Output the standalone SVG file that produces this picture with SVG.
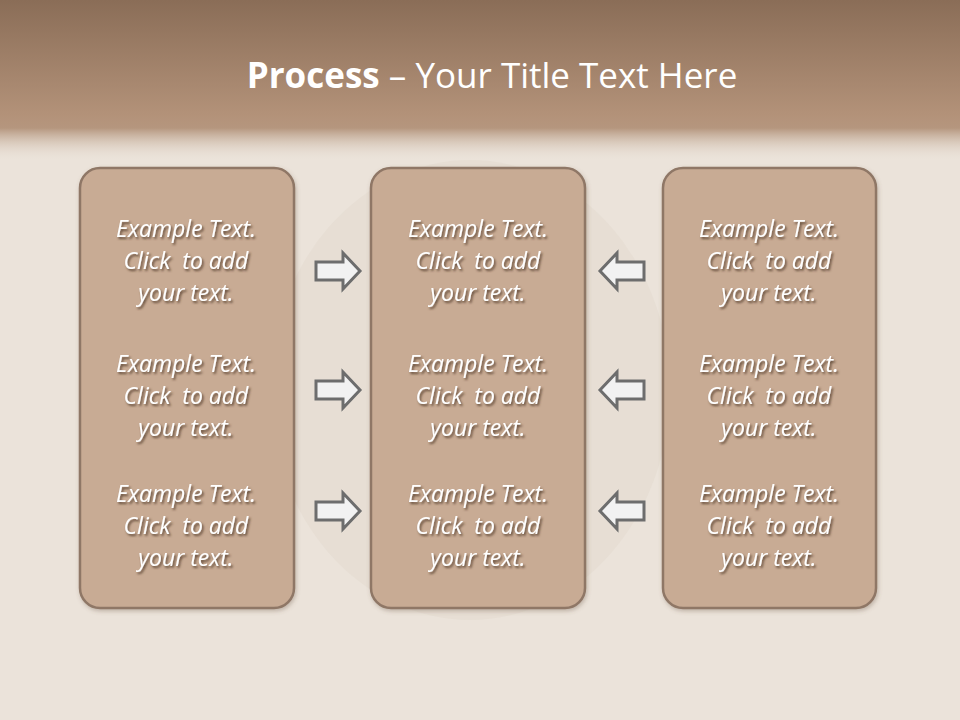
<svg xmlns="http://www.w3.org/2000/svg" width="960" height="720" viewBox="0 0 960 720">
<defs>
<linearGradient id="hdr" x1="0" y1="0" x2="0" y2="1">
<stop offset="0" stop-color="#8a6d57"/>
<stop offset="0.72" stop-color="#b39279"/>
<stop offset="0.8" stop-color="#b5967e"/>
<stop offset="1" stop-color="#e6dcd1" stop-opacity="0"/>
</linearGradient>
<filter id="ts" x="-10%" y="-20%" width="130%" height="160%">
<feDropShadow dx="1.5" dy="2" stdDeviation="1.3" flood-color="#4e3628" flood-opacity="0.85"/>
</filter>
<filter id="bs" x="-10%" y="-10%" width="130%" height="130%">
<feDropShadow dx="1" dy="2" stdDeviation="2" flood-color="#6b5444" flood-opacity="0.35"/>
</filter>
<style>
.box{fill:#c8ab94;stroke:#8f7766;stroke-width:2.5}
.t{font-family:"Open Sans","Liberation Sans",sans-serif;font-style:italic;font-size:23px;fill:#ffffff;text-anchor:middle;filter:url(#ts);white-space:pre}
.arr{fill:#f2f2f2;stroke:#6d6d6d;stroke-width:3;stroke-linejoin:miter}
</style>
</defs>
<rect width="960" height="720" fill="#ebe3da"/>
<ellipse cx="470" cy="390" rx="200" ry="230" fill="#d8cbbd" opacity="0.2"/>
<rect width="960" height="160" fill="url(#hdr)"/>
<text x="492" y="88" text-anchor="middle" font-family="Open Sans, Liberation Sans, sans-serif" font-size="35" fill="#ffffff"><tspan font-weight="bold">Process</tspan> – Your Title Text Here</text>
<g id="box-left">
<rect class="box" x="80" y="168" width="214" height="440" rx="20" filter="url(#bs)"/>
<text class="t"><tspan x="186" y="237">Example Text.</tspan><tspan x="186" y="269">Click  to add</tspan><tspan x="186" y="301">your text.</tspan></text>
<text class="t"><tspan x="186" y="372">Example Text.</tspan><tspan x="186" y="404">Click  to add</tspan><tspan x="186" y="436">your text.</tspan></text>
<text class="t"><tspan x="186" y="502">Example Text.</tspan><tspan x="186" y="534">Click  to add</tspan><tspan x="186" y="566">your text.</tspan></text>
</g>
<g id="box-middle">
<rect class="box" x="371" y="168" width="214" height="440" rx="20" filter="url(#bs)"/>
<text class="t"><tspan x="478" y="237">Example Text.</tspan><tspan x="478" y="269">Click  to add</tspan><tspan x="478" y="301">your text.</tspan></text>
<text class="t"><tspan x="478" y="372">Example Text.</tspan><tspan x="478" y="404">Click  to add</tspan><tspan x="478" y="436">your text.</tspan></text>
<text class="t"><tspan x="478" y="502">Example Text.</tspan><tspan x="478" y="534">Click  to add</tspan><tspan x="478" y="566">your text.</tspan></text>
</g>
<g id="box-right">
<rect class="box" x="663" y="168" width="213" height="440" rx="20" filter="url(#bs)"/>
<text class="t"><tspan x="769" y="237">Example Text.</tspan><tspan x="769" y="269">Click  to add</tspan><tspan x="769" y="301">your text.</tspan></text>
<text class="t"><tspan x="769" y="372">Example Text.</tspan><tspan x="769" y="404">Click  to add</tspan><tspan x="769" y="436">your text.</tspan></text>
<text class="t"><tspan x="769" y="502">Example Text.</tspan><tspan x="769" y="534">Click  to add</tspan><tspan x="769" y="566">your text.</tspan></text>
</g>
<g id="connectors">
<path class="arr" d="M316,262 H343 V253 L360,271 L343,289 V280 H316 Z"/>
<path class="arr" d="M316,381 H343 V372 L360,390 L343,408 V399 H316 Z"/>
<path class="arr" d="M316,502 H343 V493 L360,511 L343,529 V520 H316 Z"/>
<path class="arr" d="M644,262 H617 V253 L600,271 L617,289 V280 H644 Z"/>
<path class="arr" d="M644,381 H617 V372 L600,390 L617,408 V399 H644 Z"/>
<path class="arr" d="M644,502 H617 V493 L600,511 L617,529 V520 H644 Z"/>
</g>
</svg>
